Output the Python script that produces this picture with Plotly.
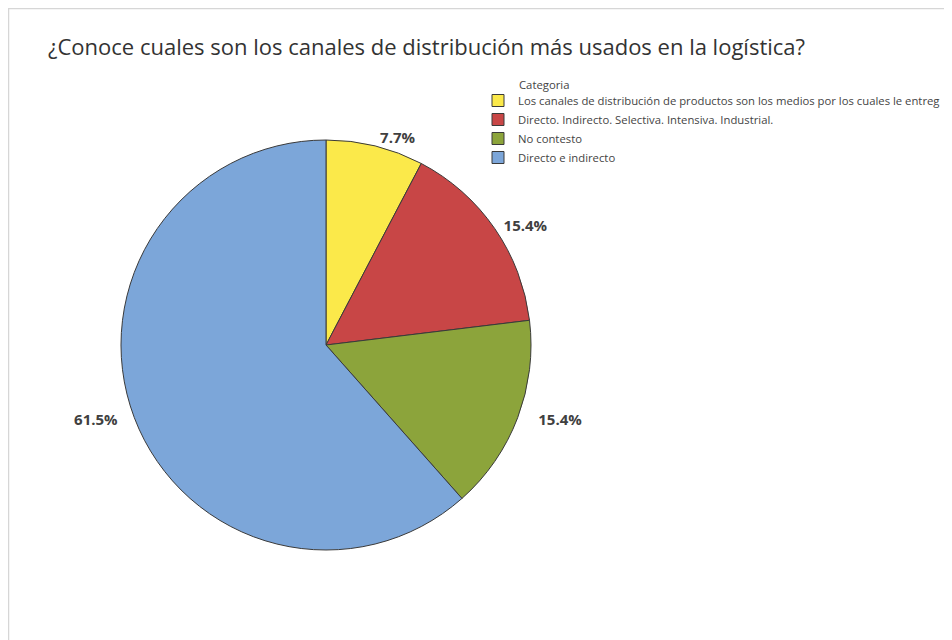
import plotly.graph_objects as go

# Respuestas a la encuesta (conteos)
categorias = [
    "Los canales de distribución de productos son los medios por los cuales le entreg",
    "Directo. Indirecto. Selectiva. Intensiva. Industrial.",
    "No contesto",
    "Directo e indirecto",
]
respuestas = [1, 2, 2, 8]
colores = ["#FBE94A", "#C84646", "#8CA43B", "#7CA6D9"]

# the page body adds an 8px margin, so positions below are relative to the figure
W, H = 952, 640
cx, cy, r = 318, 337, 205

nb = "\u00a0"
etiquetas = [
    "%{percent:.1%}",
    nb + "%{percent:.1%}",
    nb * 4 + "%{percent:.1%}",
    "%{percent:.1%}" + nb * 3,
]

fig = go.Figure()
fig.add_trace(
    go.Pie(
        labels=categorias,
        values=respuestas,
        sort=False,
        direction="clockwise",
        rotation=0,
        marker=dict(colors=colores, line=dict(color="#3a3a3a", width=1)),
        texttemplate=etiquetas,
        textposition="outside",
        textfont=dict(family="Open Sans", size=15, color="#404040", weight="bold"),
        domain=dict(x=[(cx - r) / W, (cx + r) / W], y=[(H - cy - r) / H, (H - cy + r) / H]),
        hoverinfo="label+percent",
        showlegend=True,
    )
)

fig.update_layout(
    width=W,
    height=H,
    margin=dict(l=0, r=0, t=0, b=0),
    paper_bgcolor="white",
    font=dict(family="Open Sans", color="#333333"),
    title=dict(
        text="¿Conoce cuales son los canales de distribución más usados en la logística?",
        x=40 / W,
        xanchor="left",
        y=1 - 39 / H,
        yanchor="middle",
        font=dict(family="Open Sans", size=22, color="#333333"),
    ),
    legend=dict(
        x=470 / W,
        xanchor="left",
        y=1 - 78 / H,
        yanchor="top",
        font=dict(size=11.3, color="#444444"),
        tracegroupgap=0,
        itemwidth=30,
    ),
    annotations=[
        dict(
            text="Categoria",
            xref="paper",
            yref="paper",
            x=509 / W,
            y=1 - 76 / H,
            xanchor="left",
            yanchor="middle",
            showarrow=False,
            font=dict(size=11.3, color="#444444"),
        )
    ],
    shapes=[
        dict(
            type="rect",
            xref="paper",
            yref="paper",
            x0=0.5 / W,
            x1=1.2,
            y0=-0.2,
            y1=1 - 0.5 / H,
            line=dict(color="#d6d6d6", width=1.5),
        )
    ],
)

fig.write_html("out.html")
